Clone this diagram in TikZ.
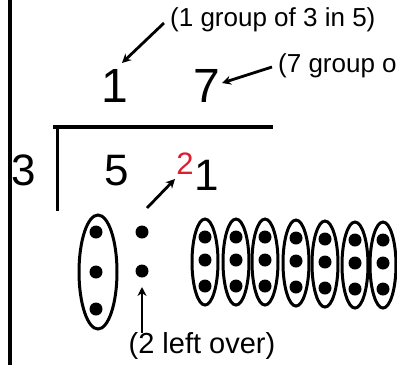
\documentclass[tikz,border=0pt]{standalone}
\usepackage{fontspec}
\setmainfont{Liberation Sans}
\usetikzlibrary{arrows.meta}
\definecolor{remred}{RGB}{220,30,50}
\begin{document}
\begin{tikzpicture}[x=1pt,y=-1pt,
  lbl/.style={inner sep=0pt,font=\fontsize{26}{28}\selectfont},
  big/.style={inner sep=0pt,font=\fontsize{48}{50}\selectfont},
  mid/.style={inner sep=0pt,font=\fontsize{44}{46}\selectfont},
  arr/.style={line width=2.8pt,-{Stealth[length=9pt,width=9pt]}},
  grp/.style={line width=3pt},
  dot/.style={circle,fill=black,inner sep=0pt,minimum size=13pt}]
\useasboundingbox (0,0) rectangle (397,365);
\begin{scope}
\clip (0,0) rectangle (397,365);
% left border
\draw[line width=3.5pt] (10,0) -- (10,365);
% quotient
\node[big] (q1) at (115,86) {1};
\node[big] (q7) at (207,86) {7};
\node[lbl,anchor=west] (t1) at (170,20) {(1 group of 3 in 5)};
\node[lbl,anchor=west] (t7) at (278,66) {(7 group o};
\coordinate (a1s) at (164,23);
\coordinate (a1e) at (122,63);
\draw[arr] (a1s) -- (a1e);
\coordinate (a7s) at (272,67);
\coordinate (a7e) at (222,83);
\draw[arr] (a7s) -- (a7e);
% division bracket
\coordinate (hl) at (53,127);
\coordinate (hr) at (273,127);
\coordinate (vt) at (57,127);
\coordinate (vb) at (57,211);
\draw[line width=3.6pt] (hl) -- (hr);
\draw[line width=3pt] (vt) -- (vb);
% dividend
\node[mid] (d3) at (24,170) {3};
\node[mid] (d5) at (117,171) {5};
\node[inner sep=0pt,font=\fontsize{31}{33}\selectfont,text=remred] (r2) at (185,164) {2};
\node[mid] (d1) at (207,175) {1};
\coordinate (a2s) at (147,208);
\coordinate (a2e) at (175,179);
\draw[arr] (a2s) -- (a2e);
% first group
\draw[grp] (98,272) ellipse [x radius=19pt, y radius=57pt];
\node[dot] (g0a) at (96,232) {};
\node[dot] (g0b) at (96,272) {};
\node[dot] (g0c) at (96,309) {};
% left over dots
\node[dot] (l1) at (142,232) {};
\node[dot] (l2) at (142,271) {};
\coordinate (a3s) at (142,333);
\coordinate (a3e) at (142,287);
\draw[arr] (a3s) -- (a3e);
\node[inner sep=0pt,font=\fontsize{29}{31}\selectfont] (t2) at (202,346) {(2 left over)};
% seven groups
\foreach \x/\dy in {205/0,236/0,265/0,296/1,325/2,355/3,383/3}{
  \draw[grp] (\x,262+\dy) ellipse [x radius=13pt, y radius=43pt];
  \node[dot] at (\x,237+\dy) {};
  \node[dot] at (\x,260+\dy) {};
  \node[dot] at (\x,286+\dy) {};
}
\end{scope}
\end{tikzpicture}
\end{document}
